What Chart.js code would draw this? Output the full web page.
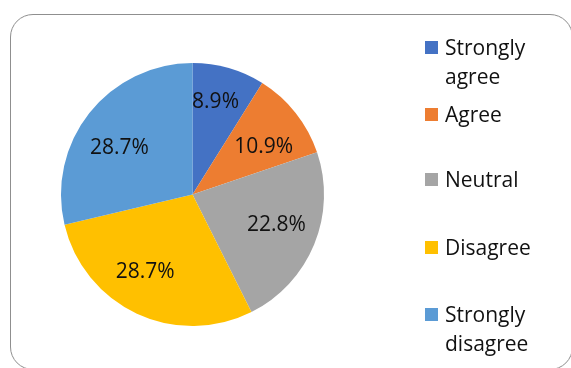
<!DOCTYPE html>
<html>

<head>
    <meta charset="utf-8">
    <script src="https://cdn.jsdelivr.net/npm/chart.js@4"></script>
    <style>
        html, body { margin: 0; padding: 0; background: #fff; }
        #wrap { position: relative; width: 571px; height: 368px; overflow: hidden; }
        #frame {
            position: absolute; left: 10px; top: 14px; width: 563px; height: 356px;
            border: 1.5px solid #8f8f8f; border-radius: 23px; box-sizing: border-box;
        }
        #wykres { position: absolute; left: 0; top: 0; }
        #legenda { position: absolute; left: 0; top: 0; font-family: "Open Sans", sans-serif; font-size: 21px; color: #111; }
        .poz { position: absolute; left: 425px; display: flex; align-items: flex-start; }
        .kw { width: 13px; height: 13px; margin-top: 8px; margin-right: 7px; }
        .tx { line-height: 29px; }
    </style>
</head>

<body>
    <div id="wrap">
        <div id="frame"></div>
        <canvas id="wykres" width="571" height="368"></canvas>
        <div id="legenda"></div>
    </div>
    <script>
        const kategorie = [["Strongly", "agree"], ["Agree"], ["Neutral"], ["Disagree"], ["Strongly", "disagree"]];
        const procenty = [8.9, 10.9, 22.8, 28.7, 28.7];
        const kolory = ["#4472C4", "#ED7D31", "#A5A5A5", "#FFC000", "#5B9BD5"];
        // top of each legend entry
        const legendaY = [33, 100, 165, 233, 300];
        // small nudges of the slice labels, in px
        const przesuniecia = [[-2, -5], [0, 9], [0, -4], [-9, -5], [-2, 10]];

        // percentages written inside the slices
        const etykiety = {
            id: "etykiety",
            afterDatasetsDraw(chart) {
                const ctx = chart.ctx;
                const meta = chart.getDatasetMeta(0);
                ctx.save();
                ctx.font = "21px 'Open Sans', sans-serif";
                ctx.fillStyle = "#111";
                ctx.textAlign = "center";
                ctx.textBaseline = "middle";
                meta.data.forEach((arc, i) => {
                    const p = arc.getProps(["x", "y", "startAngle", "endAngle", "outerRadius"], true);
                    const kat = (p.startAngle + p.endAngle) / 2;
                    const r = p.outerRadius * 0.69;
                    const x = p.x + Math.cos(kat) * r + przesuniecia[i][0];
                    const y = p.y + Math.sin(kat) * r + przesuniecia[i][1];
                    ctx.fillText(procenty[i].toFixed(1) + "%", x, y);
                });
                ctx.restore();
            }
        };

        const ctx = document.getElementById("wykres").getContext("2d");
        const wykres = new Chart(ctx, {
            type: "pie",
            data: {
                labels: kategorie.map(k => k.join(" ")),
                datasets: [{ data: procenty, backgroundColor: kolory, borderWidth: 0 }]
            },
            options: {
                responsive: false,
                animation: false,
                layout: { padding: { left: 61, top: 63, right: 247, bottom: 42 } },
                plugins: { legend: { display: false }, tooltip: { enabled: false } }
            },
            plugins: [etykiety]
        });

        const legenda = document.getElementById("legenda");
        kategorie.forEach((k, i) => {
            const el = document.createElement("div");
            el.className = "poz";
            el.style.top = legendaY[i] + "px";
            el.innerHTML = '<div class="kw" style="background:' + kolory[i] + '"></div><div class="tx">' + k.join("<br>") + "</div>";
            legenda.appendChild(el);
        });
    </script>
</body>

</html>
